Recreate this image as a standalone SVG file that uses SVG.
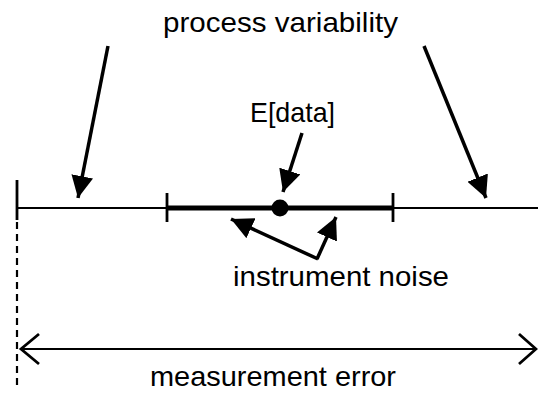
<svg xmlns="http://www.w3.org/2000/svg" width="538" height="395" viewBox="0 0 538 395">
<style>
  text { font-family: "Liberation Sans", Arial, sans-serif; font-size: 28px; fill: #000; }
  .ln { stroke: #000; fill: none; }
  .arr { stroke: #000; fill: none; stroke-width: 3.5; }
</style>
<defs>
  <marker id="ahb" viewBox="0 0 10 10" refX="10" refY="5" markerWidth="22" markerHeight="22" markerUnits="userSpaceOnUse" orient="auto">
    <path d="M0,0 L10,5 L0,10 Z" fill="#000"/>
  </marker>
</defs>
<rect width="538" height="395" fill="#fff"/>
<g id="axis">
  <line class="ln" x1="17" y1="208" x2="538" y2="208" stroke-width="2.2"/>
  <line class="ln" x1="17" y1="180" x2="17" y2="220" stroke-width="2.8"/>
  <line class="ln" x1="17" y1="222" x2="17" y2="388" stroke-width="2.2" stroke-dasharray="7,5"/>
</g>
<g id="noise-range">
  <line class="ln" x1="167" y1="208" x2="393" y2="208" stroke-width="5"/>
  <line class="ln" x1="167" y1="193" x2="167" y2="222" stroke-width="2.8"/>
  <line class="ln" x1="393" y1="193" x2="393" y2="222" stroke-width="2.8"/>
  <circle cx="280" cy="208" r="8.5" fill="#000"/>
</g>
<g id="connectors">
  <line class="arr" x1="108" y1="46" x2="78" y2="198" marker-end="url(#ahb)"/>
  <line class="arr" x1="424" y1="46" x2="486" y2="198" marker-end="url(#ahb)"/>
  <line class="arr" x1="302" y1="133" x2="283" y2="192" marker-end="url(#ahb)"/>
  <line class="arr" x1="318" y1="259" x2="231" y2="219" marker-end="url(#ahb)"/>
  <line class="arr" x1="317" y1="259" x2="336" y2="217" marker-end="url(#ahb)"/>
</g>
<g id="measurement-error">
  <line class="ln" x1="21" y1="349" x2="535" y2="349" stroke-width="2.2"/>
  <polyline class="ln" points="39,334 21,349 39,364" stroke-width="2.8"/>
  <polyline class="ln" points="519,334 536,349 519,364" stroke-width="2.8"/>
</g>
<g id="labels">
  <text x="163" y="32" textLength="235" lengthAdjust="spacingAndGlyphs">process variability</text>
  <text x="250" y="122" textLength="85" lengthAdjust="spacingAndGlyphs">E[data]</text>
  <text x="233" y="286" textLength="216" lengthAdjust="spacingAndGlyphs">instrument noise</text>
  <text x="150" y="386" textLength="246" lengthAdjust="spacingAndGlyphs">measurement error</text>
</g>
</svg>
